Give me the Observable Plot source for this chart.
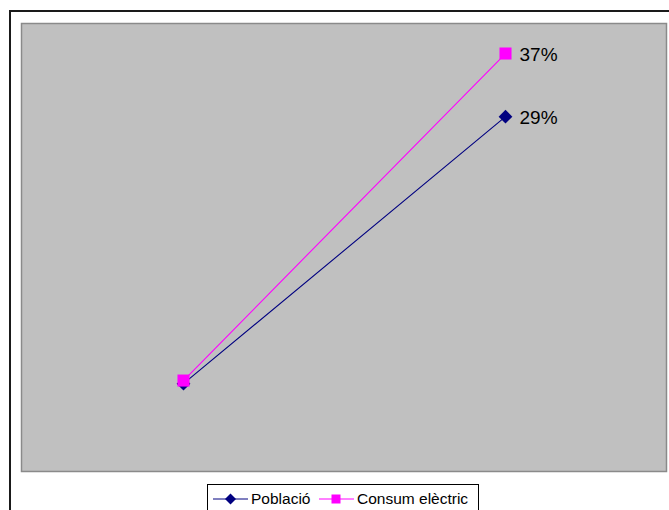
<!DOCTYPE html>
<html>
<head>
<meta charset="utf-8">
<script src="https://cdn.jsdelivr.net/npm/d3@7"></script>
<script src="https://cdn.jsdelivr.net/npm/@observablehq/plot@0.6"></script>
<style>
  html, body { margin: 0; padding: 0; background: #fff; overflow: hidden; }
  #wrap { position: relative; width: 669px; height: 510px; font-family: "Liberation Sans", Arial, sans-serif; }
  #chart { position: absolute; left: 0; top: 0; }
  #outer { position: absolute; left: 9px; top: 10px; width: 700px; height: 540px; border: 2px solid #1a1a1a; box-sizing: border-box; pointer-events: none; }
  #legend { position: absolute; left: 207px; top: 484px; width: 272px; height: 30px; border: 1px solid #000; background: #fff; box-sizing: border-box; font-size: 15.5px; color: #000; }
  #legend .item { position: absolute; top: 4px; display: flex; align-items: center; white-space: nowrap; }
  #legend svg { display: block; }
</style>
</head>
<body>
<div id="wrap">
  <div id="chart"></div>
  <div id="outer"></div>
  <div id="legend"></div>
</div>
<script>
// Data (arbitrary common unit on the hidden axis)
const periods = ["Inici", "Final"];
const poblacio = [19.6, 79.2];
const consum = [20.3, 93.3];
const poblacioLabels = ["", "29%"];
const consumLabels = ["", "37%"];
const seriesNames = ["Població", "Consum elèctric"];
const seriesColors = ["#000080", "#FF00FF"];

const pob = periods.map((p, i) => ({period: p, value: poblacio[i], label: poblacioLabels[i]}));
const con = periods.map((p, i) => ({period: p, value: consum[i], label: consumLabels[i]}));

const chart = Plot.plot({
  width: 669,
  height: 480,
  marginLeft: 21,
  marginRight: 3,
  marginTop: 23,
  marginBottom: 9,
  style: {background: "transparent", fontFamily: "'Liberation Sans', Arial, sans-serif"},
  x: {type: "point", domain: periods, padding: 0.5, axis: null},
  y: {domain: [0, 100], axis: null},
  marks: [
    Plot.frame({fill: "#C0C0C0", stroke: "#8a8a8a", strokeWidth: 1.5}),
    Plot.line(pob, {x: "period", y: "value", stroke: seriesColors[0], strokeWidth: 1.1}),
    Plot.dot(pob, {x: "period", y: "value", symbol: "diamond2", r: 6.2, fill: seriesColors[0], stroke: "none"}),
    Plot.line(con, {x: "period", y: "value", stroke: seriesColors[1], strokeWidth: 1.1}),
    Plot.dot(con, {x: "period", y: "value", symbol: "square", r: 6.8, fill: seriesColors[1], stroke: "none"}),
    Plot.text(pob, {x: "period", y: "value", text: "label", textAnchor: "start", dx: 14, dy: 1, fontSize: 19, fill: "#000"}),
    Plot.text(con, {x: "period", y: "value", text: "label", textAnchor: "start", dx: 14, dy: 1, fontSize: 19, fill: "#000"})
  ]
});
document.getElementById("chart").appendChild(chart);

// Legend
const legend = document.getElementById("legend");
const symbols = ["diamond", "square"];
const lefts = [5, 111];
seriesNames.forEach((name, i) => {
  const item = document.createElement("div");
  item.className = "item";
  item.style.left = lefts[i] + "px";
  const sw = d3.create("svg").attr("width", 36).attr("height", 20);
  sw.append("line").attr("x1", 0).attr("x2", 35).attr("y1", 10).attr("y2", 10)
    .attr("stroke", seriesColors[i]).attr("stroke-width", 1);
  if (symbols[i] === "diamond") {
    sw.append("path").attr("d", "M17.5,4.5L23,10L17.5,15.5L12,10Z").attr("fill", seriesColors[i]);
  } else {
    sw.append("rect").attr("x", 12.5).attr("y", 5.5).attr("width", 9).attr("height", 9).attr("fill", seriesColors[i]);
  }
  item.appendChild(sw.node());
  const t = document.createElement("span");
  t.textContent = name;
  t.style.marginLeft = "2px";
  item.appendChild(t);
  legend.appendChild(item);
});
</script>
</body>
</html>
